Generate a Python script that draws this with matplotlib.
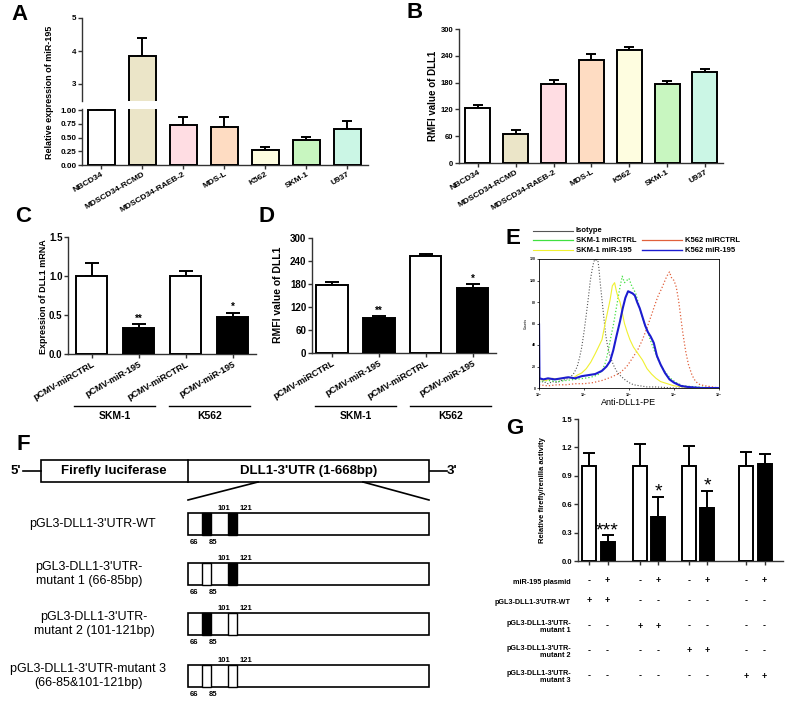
import numpy as np
import matplotlib
matplotlib.use('Agg')
import matplotlib.pyplot as plt
from matplotlib.patches import Rectangle
from matplotlib.transforms import blended_transform_factory

plt.rcParams['font.family'] = ['Liberation Sans', 'DejaVu Sans']
plt.rcParams['font.weight'] = 'bold'

W, H = 787, 701

# ---------------- data ----------------
cells = ['NBCD34', 'MDSCD34-RCMD', 'MDSCD34-RAEB-2', 'MDS-L', 'K562', 'SKM-1', 'U937']
cell_colors = ['#ffffff', '#ebe5c8', '#ffdde3', '#fedcc2', '#fefde0', '#c8f6c0', '#cbf6e5']
mir195 = [1.0, 3.85, 0.72, 0.69, 0.27, 0.45, 0.66]
mir195_err = [0.0, 0.55, 0.15, 0.18, 0.05, 0.06, 0.14]
rmfi = [123, 66, 176, 230, 252, 177, 204]
rmfi_err = [7, 7, 9, 14, 7, 7, 6]

treat = ['pCMV-miRCTRL', 'pCMV-miR-195', 'pCMV-miRCTRL', 'pCMV-miR-195']
treat_colors = ['white', 'black', 'white', 'black']
dll1_mrna = [1.0, 0.33, 1.0, 0.48]
dll1_mrna_err = [0.17, 0.05, 0.07, 0.05]
mrna_stars = ['', '**', '', '*']
dll1_rmfi = [177, 91, 252, 170]
dll1_rmfi_err = [7, 6, 7, 10]
rmfi_stars = ['', '**', '', '*']
cell_groups = ['SKM-1', 'K562']

# flow cytometry histograms: log10(intensity), counts
iso_log = [0.0, 0.1, 0.2, 0.3, 0.4, 0.5, 0.6, 0.7, 0.78, 0.85, 0.9, 0.95, 1.0, 1.05, 1.1, 1.14, 1.18, 1.21,
           1.24, 1.27, 1.3, 1.33, 1.36, 1.4, 1.44, 1.48, 1.52, 1.57, 1.62, 1.68, 1.75, 1.82, 1.9, 2.0, 2.1,
           2.25, 2.4, 2.6, 3.0, 4.0]
iso_cnt = [5, 6, 4, 6, 5, 7, 8, 10, 14, 20, 28, 38, 52, 68, 85, 100, 110, 116, 120, 118, 121, 112, 98, 82,
           66, 50, 40, 31, 25, 19, 14, 11, 8, 5, 3, 2, 1, 1, 0, 0]
skm_ctrl_log = [0.0, 0.2, 0.4, 0.6, 0.8, 1.0, 1.15, 1.3, 1.4, 1.48, 1.54, 1.6, 1.65, 1.7, 1.75, 1.8, 1.85,
                1.9, 1.95, 2.0, 2.05, 2.1, 2.15, 2.2, 2.27, 2.34, 2.4, 2.48, 2.56, 2.64, 2.72, 2.82, 2.92,
                3.05, 3.2, 3.5, 4.0]
skm_ctrl_cnt = [6, 7, 6, 7, 8, 9, 10, 12, 16, 24, 35, 48, 58, 70, 82, 94, 104, 98, 100, 102, 96, 92, 88, 80,
                70, 60, 54, 44, 35, 27, 20, 14, 9, 5, 2, 1, 0]
skm_mir_log = [0.0, 0.15, 0.3, 0.45, 0.6, 0.75, 0.85, 0.95, 1.05, 1.15, 1.25, 1.32, 1.4, 1.46, 1.52, 1.58,
               1.63, 1.68, 1.72, 1.76, 1.8, 1.85, 1.9, 1.96, 2.02, 2.1, 2.2, 2.3, 2.4, 2.5, 2.6, 2.7, 2.85,
               3.0, 3.2, 3.5, 4.0]
skm_mir_cnt = [8, 7, 9, 8, 10, 9, 12, 14, 18, 24, 32, 38, 45, 58, 70, 82, 95, 98, 90, 84, 80, 70, 60, 52, 45,
               38, 32, 26, 18, 13, 9, 6, 4, 2, 1, 0, 0]
k562_ctrl_log = [0.0, 0.2, 0.4, 0.6, 0.8, 1.0, 1.2, 1.4, 1.6, 1.8, 1.95, 2.08, 2.2, 2.3, 2.4, 2.5, 2.58,
                 2.65, 2.72, 2.78, 2.84, 2.9, 2.95, 3.0, 3.05, 3.1, 3.15, 3.2, 3.26, 3.32, 3.4, 3.48, 3.58,
                 3.7, 3.85, 4.0]
k562_ctrl_cnt = [3, 2, 3, 3, 4, 4, 5, 7, 10, 14, 20, 28, 36, 45, 56, 68, 78, 86, 92, 98, 104, 108, 102, 100,
                 94, 82, 66, 50, 34, 22, 12, 6, 3, 2, 1, 0]
k562_mir_log = [0.0, 0.0, 0.01, 0.1, 0.2, 0.35, 0.5, 0.65, 0.8, 0.95, 1.1, 1.25, 1.4, 1.5, 1.58, 1.65, 1.72,
                1.8, 1.86, 1.92, 1.98, 2.03, 2.08, 2.13, 2.18, 2.24, 2.3, 2.36, 2.42, 2.48, 2.55, 2.62, 2.7,
                2.8, 2.9, 3.0, 3.15, 3.3, 3.6, 4.0]
k562_mir_cnt = [0, 60, 9, 8, 9, 8, 9, 10, 9, 11, 12, 13, 16, 20, 25, 35, 48, 62, 74, 84, 90, 89, 88, 86, 80,
                74, 66, 58, 52, 48, 42, 30, 22, 14, 8, 5, 2, 1, 0, 0]
flow_names = ['Isotype', 'SKM-1 miRCTRL', 'K562 miRCTRL', 'SKM-1 miR-195', 'K562 miR-195']

# luciferase
luc_ctrl = [1.0, 1.0, 1.0, 1.0]
luc_ctrl_err = [0.14, 0.24, 0.22, 0.15]
luc_mir = [0.20, 0.46, 0.56, 1.02]
luc_mir_err = [0.07, 0.22, 0.18, 0.11]
luc_stars = ['***', '*', '*', '']
table_rows = ['miR-195 plasmid', "pGL3-DLL1-3'UTR-WT", "pGL3-DLL1-3'UTR-\nmutant 1",
              "pGL3-DLL1-3'UTR-\nmutant 2", "pGL3-DLL1-3'UTR-\nmutant 3"]
table_signs = [['-', '+', '-', '+', '-', '+', '-', '+'],
               ['+', '+', '-', '-', '-', '-', '-', '-'],
               ['-', '-', '+', '+', '-', '-', '-', '-'],
               ['-', '-', '-', '-', '+', '+', '-', '-'],
               ['-', '-', '-', '-', '-', '-', '+', '+']]

# ---------------- helpers ----------------
fig = plt.figure(figsize=(W / 100, H / 100), dpi=100)


def ax_at(x0, y0, x1, y1, **kw):
    return fig.add_axes([x0 / W, 1 - y1 / H, (x1 - x0) / W, (y1 - y0) / H], **kw)


def style(ax, fs=5.5):
    for s in ['top', 'right']:
        ax.spines[s].set_visible(False)
    for s in ['left', 'bottom']:
        ax.spines[s].set_linewidth(1.0)
        ax.spines[s].set_color('#333333')
    ax.tick_params(direction='out', length=3, width=1, labelsize=fs, color='#333333', pad=1)
    ax.set_facecolor('none')


def bars(ax, x, vals, errs, colors, width, lw=1.4, cap=3.5):
    ax.bar(x, vals, width, color=colors, edgecolor='black', linewidth=lw, zorder=3)
    ax.errorbar(x, vals, yerr=[np.zeros(len(errs)), errs], fmt='none', ecolor='black',
                elinewidth=lw, capsize=cap, capthick=lw, zorder=2)


# overlay in pixel coordinates for schematic and annotations
ov = fig.add_axes([0, 0, 1, 1], zorder=10)
ov.set_xlim(0, W)
ov.set_ylim(H, 0)
ov.axis('off')

# ---------------- A (broken axis) ----------------
xA = np.arange(len(cells))
axAu = ax_at(82, 18, 368, 100.5)
axAl = ax_at(82, 109, 368, 165)
for ax in (axAu, axAl):
    bars(ax, xA, mir195, mir195_err, cell_colors, 0.67)
    style(ax, 5.8)
    ax.set_xlim(-0.47, 6.5)
axAu.set_ylim(2.5, 5)
axAu.set_yticks([3, 4, 5])
axAu.spines['bottom'].set_visible(False)
axAu.set_xticks([])
axAl.set_ylim(0, 1.02)
axAl.set_yticks([0, 0.25, 0.5, 0.75, 1.0])
axAl.set_yticklabels(['0.00', '0.25', '0.50', '0.75', '1.00'])
axAl.set_xticks(xA)
axAl.set_xticklabels(cells, rotation=30, ha='right', rotation_mode='anchor', fontsize=6)
fig.text(50 / W, 1 - 92 / H, 'Relative expression of miR-195', rotation=90, ha='center', va='center',
         fontsize=6.5)

# ---------------- B ----------------
axB = ax_at(459, 29, 723, 163)
bars(axB, xA, rmfi, rmfi_err, cell_colors, 0.66)
style(axB, 5.5)
axB.set_xlim(-0.5, 6.48)
axB.set_ylim(0, 300)
axB.set_yticks(range(0, 301, 60))
axB.set_xticks(xA)
axB.set_xticklabels(cells, rotation=30, ha='right', rotation_mode='anchor', fontsize=6)
fig.text(433 / W, 1 - 96 / H, 'RMFI value of DLL1', rotation=90, ha='center', va='center', fontsize=7)

# ---------------- C ----------------
xC = np.arange(4)
axC = ax_at(68, 237, 256, 354)
bars(axC, xC, dll1_mrna, dll1_mrna_err, treat_colors, 0.67, cap=5)
style(axC, 7)
axC.set_xlim(-0.5, 3.5)
axC.set_ylim(0, 1.5)
axC.set_yticks([0, 0.5, 1.0, 1.5])
axC.set_xticks(xC)
axC.set_xticklabels(treat, rotation=30, ha='right', rotation_mode='anchor', fontsize=6.5)
for xi, v, e, s in zip(xC, dll1_mrna, dll1_mrna_err, mrna_stars):
    axC.text(xi, v + e + 0.01, s, ha='center', va='bottom', fontsize=7)
fig.text(43 / W, 1 - 297 / H, 'Expression of DLL1 mRNA', rotation=90, ha='center', va='center',
         fontsize=6.5)

# ---------------- D ----------------
axD = ax_at(312, 238, 496, 353)
bars(axD, xC, dll1_rmfi, dll1_rmfi_err, treat_colors, 0.67, cap=5)
style(axD, 7)
axD.set_xlim(-0.43, 3.5)
axD.set_ylim(0, 300)
axD.set_yticks(range(0, 301, 60))
axD.set_xticks(xC)
axD.set_xticklabels(treat, rotation=30, ha='right', rotation_mode='anchor', fontsize=6.5)
for xi, v, e, s in zip(xC, dll1_rmfi, dll1_rmfi_err, rmfi_stars):
    axD.text(xi, v + e + 1, s, ha='center', va='bottom', fontsize=7)
fig.text(278 / W, 1 - 295 / H, 'RMFI value of DLL1', rotation=90, ha='center', va='center', fontsize=7.5)

# group underlines under C and D
for x0s in ([74, 169], [315, 410]):
    for x0, g in zip(x0s, cell_groups):
        ov.plot([x0, x0 + 81], [406, 406], color='black', lw=1)
        ov.text(x0 + 40.5, 416, g, ha='center', va='center', fontsize=7.5)

# ---------------- E (flow) ----------------
axE = ax_at(539, 259, 719, 388)
flows = [(iso_log, iso_cnt, '#555555', ':', 0.8),
         (skm_ctrl_log, skm_ctrl_cnt, '#40e040', ':', 0.9),
         (k562_ctrl_log, k562_ctrl_cnt, '#e0603c', ':', 0.9),
         (skm_mir_log, skm_mir_cnt, '#f0f030', '-', 0.8),
         (k562_mir_log, k562_mir_cnt, '#1c1cd0', '-', 1.5)]
for (lg, ct, c, ls, lw) in flows:
    axE.plot(10 ** np.array(lg), ct, color=c, ls=ls, lw=lw)
axE.set_xscale('log')
axE.set_xlim(1, 1e4)
axE.set_ylim(0, 120)
axE.set_yticks(range(0, 121, 20))
axE.set_xticks([1, 10, 100, 1000, 10000])
axE.set_xticklabels(['10$^0$', '10$^1$', '10$^2$', '10$^3$', '10$^4$'])
axE.minorticks_off()
axE.tick_params(labelsize=2.5, length=1.5, width=0.5, pad=1)
for s in axE.spines.values():
    s.set_linewidth(0.6)
axE.set_ylabel('Counts', fontsize=2.5, labelpad=1)
axE.set_xlabel('Anti-DLL1-PE', fontsize=6.5, labelpad=-1)

# legend of E
leg_pos = [(533, 231), (533, 240), (642, 240), (533, 250), (642, 250)]
for (c, ls, lw), (lx, ly), name in zip([(f[2], f[3], f[4]) for f in flows], leg_pos, flow_names):
    ov.plot([lx, lx + 40], [ly, ly], color=c, ls='-', lw=min(lw, 1.0))
    ov.text(lx + 43, ly, name, ha='left', va='center', fontsize=5.5)

# ---------------- F (schematic) ----------------
lwF = 1.2
ov.add_patch(Rectangle((41, 460), 388, 22, fill=False, lw=lwF))
ov.plot([188, 188], [460, 482], color='black', lw=lwF)
ov.plot([23, 41], [471, 471], color='black', lw=lwF)
ov.plot([430, 447], [471, 471], color='black', lw=lwF)
ov.text(16, 471, "5'", ha='center', va='center', fontsize=9.5)
ov.text(452, 471, "3'", ha='center', va='center', fontsize=9.5)
ov.text(114, 471, 'Firefly luciferase', ha='center', va='center', fontsize=9.5)
ov.text(309, 471, "DLL1-3'UTR (1-668bp)", ha='center', va='center', fontsize=9.5)
ov.plot([258, 188], [482, 500], color='black', lw=lwF)
ov.plot([363, 429], [482, 500], color='black', lw=lwF)

site_edges = [202, 211, 228, 237]
constructs = [("pGL3-DLL1-3'UTR-WT", 92, 513, [True, True]),
              ("pGL3-DLL1-3'UTR-\nmutant 1 (66-85bp)", 89, 563, [False, True]),
              ("pGL3-DLL1-3'UTR-\nmutant 2 (101-121bp)", 94, 613, [True, False]),
              ("pGL3-DLL1-3'UTR-mutant 3\n(66-85&101-121bp)", 88, 665, [False, False])]
for label, tx, top, filled in constructs:
    ov.add_patch(Rectangle((188, top), 241, 22, facecolor='white', edgecolor='black', lw=lwF))
    for k, f in enumerate(filled):
        a, b = site_edges[2 * k], site_edges[2 * k + 1]
        ov.add_patch(Rectangle((a, top), b - a, 22, facecolor='black' if f else 'white',
                               edgecolor='black', lw=1.0))
    ov.text(224, top - 5, '101', ha='center', va='center', fontsize=5.5)
    ov.text(246, top - 5, '121', ha='center', va='center', fontsize=5.5)
    ov.text(194, top + 29, '66', ha='center', va='center', fontsize=5.5)
    ov.text(213, top + 29, '85', ha='center', va='center', fontsize=5.5)
    ov.text(tx, top + 11, label, ha='center', va='center', fontsize=9, fontweight='normal',
            multialignment='center', linespacing=1.15)

# ---------------- G ----------------
g_pos = np.array([0.0, 2.75, 5.4, 8.5])
axG = ax_at(578, 419, 783, 561)
bars(axG, g_pos, luc_ctrl, luc_ctrl_err, 'white', 0.76, cap=4)
bars(axG, g_pos + 1, luc_mir, luc_mir_err, 'black', 0.76, cap=4)
style(axG, 5.5)
axG.set_xlim(-0.6, 10.5)
axG.set_ylim(0, 1.5)
axG.set_yticks(np.arange(0, 1.51, 0.3))
axG.set_yticklabels(['0.0', '0.3', '0.6', '0.9', '1.2', '1.5'])
axG.set_xticks(np.concatenate([g_pos, g_pos + 1]))
axG.set_xticklabels([])
for xi, v, e, s in zip(g_pos + 1, luc_mir, luc_mir_err, luc_stars):
    axG.text(xi, v + e - 0.04, s, ha='center', va='bottom', fontsize=14, fontweight='normal')
fig.text(543 / W, 1 - 490 / H, 'Relative firefly/renilla activity', rotation=90, ha='center',
         va='center', fontsize=5.5)

cols = np.ravel(np.column_stack([g_pos, g_pos + 1]))
tr = blended_transform_factory(axG.transData, ov.transData)
row_y = [581, 601, 626, 651, 676]
for lab, y, signs in zip(table_rows, row_y, table_signs):
    ov.text(571, y + 1, lab, ha='right', va='center', fontsize=5.2, multialignment='right',
            linespacing=1.1)
    for xc, s in zip(cols, signs):
        ov.text(xc, y, s, transform=tr, ha='center', va='center', fontsize=6.5)

# ---------------- panel letters ----------------
for letter, (lx, ly) in zip('ABCDEFG', [(20, 15), (415, 13), (23, 216), (266, 216), (513, 238),
                                         (23, 445), (515, 428)]):
    ov.text(lx, ly, letter, ha='center', va='center', fontsize=16)

fig.savefig('out.png', dpi=100)
